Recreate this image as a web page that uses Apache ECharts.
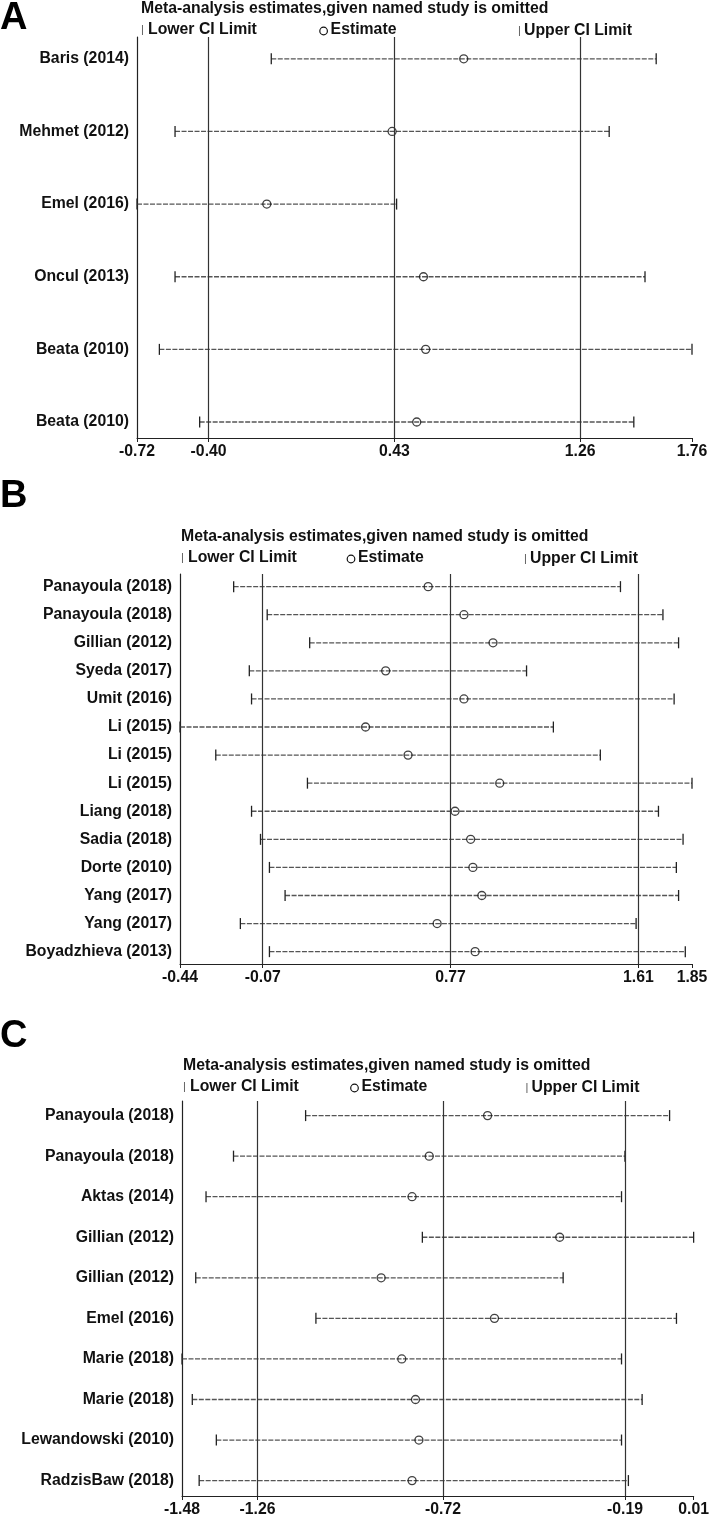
<!DOCTYPE html>
<html>
<head>
<meta charset="utf-8">
<script src="https://cdn.jsdelivr.net/npm/echarts@6/dist/echarts.min.js"></script>
<style>
html,body{margin:0;padding:0;background:#fff;}
#chart{width:712px;height:1518px;}
</style>
</head>
<body>
<div id="chart"></div>
<script>
// panel A
const studiesA = ['Baris (2014)','Mehmet (2012)','Emel (2016)','Oncul (2013)','Beata (2010)','Beata (2010)']
const lowerA = [-0.12,-0.55,-0.72,-0.55,-0.62,-0.44]
const estA = [0.74,0.42,-0.14,0.56,0.57,0.53]
const upperA = [1.60,1.39,0.44,1.55,1.76,1.50]
const overallA = [-0.40,0.43,1.26]
const ticksA = [-0.72,-0.40,0.43,1.26,1.76]

// panel B
const studiesB = ['Panayoula (2018)','Panayoula (2018)','Gillian (2012)','Syeda (2017)','Umit (2016)','Li (2015)','Li (2015)','Li (2015)','Liang (2018)','Sadia (2018)','Dorte (2010)','Yang (2017)','Yang (2017)','Boyadzhieva (2013)']
const lowerB = [-0.20,-0.05,0.14,-0.13,-0.12,-0.44,-0.28,0.13,-0.12,-0.08,-0.04,0.03,-0.17,-0.04]
const estB = [0.67,0.83,0.96,0.48,0.83,0.39,0.58,0.99,0.79,0.86,0.87,0.91,0.71,0.88]
const upperB = [1.53,1.72,1.79,1.11,1.77,1.23,1.44,1.85,1.70,1.81,1.78,1.79,1.60,1.82]
const overallB = [-0.07,0.77,1.61]
const ticksB = [-0.44,-0.07,0.77,1.61,1.85]

// panel C
const studiesC = ['Panayoula (2018)','Panayoula (2018)','Aktas (2014)','Gillian (2012)','Gillian (2012)','Emel (2016)','Marie (2018)','Marie (2018)','Lewandowski (2010)','RadzisBaw (2018)']
const lowerC = [-1.12,-1.33,-1.41,-0.78,-1.44,-1.09,-1.48,-1.45,-1.38,-1.43]
const estC = [-0.59,-0.76,-0.81,-0.38,-0.90,-0.57,-0.84,-0.80,-0.79,-0.81]
const upperC = [-0.06,-0.19,-0.20,0.01,-0.37,-0.04,-0.20,-0.14,-0.20,-0.18]
const overallC = [-1.26,-0.72,-0.19]
const ticksC = [-1.48,-1.26,-0.72,-0.19,0.01]

const FONT = "'Liberation Sans', Arial, sans-serif"
const FS = 15.8

const panels = [
  {studies:studiesA, lower:lowerA, est:estA, upper:upperA, overall:overallA, ticks:ticksA,
   grid:{left:137, top:37, width:555, height:401}, yMin:-0.30, yMax:5.22},
  {studies:studiesB, lower:lowerB, est:estB, upper:upperB, overall:overallB, ticks:ticksB,
   grid:{left:180, top:574, width:512, height:390}, yMin:-0.45, yMax:13.44},
  {studies:studiesC, lower:lowerC, est:estC, upper:upperC, overall:overallC, ticks:ticksC,
   grid:{left:182, top:1101, width:513, height:396}, yMin:-0.36, yMax:9.38}
]

function ciItem(params, api){
  const row = api.value(2)
  const p1 = api.coord([api.value(0), row])
  const p2 = api.coord([api.value(1), row])
  const h = 5.5
  return {
    type:'group',
    children:[
      {type:'line', shape:{x1:p1[0],y1:p1[1],x2:p2[0],y2:p2[1]},
       style:{stroke:'#555', lineWidth:1.3, lineDash:[5,1.5]}},
      {type:'line', shape:{x1:p1[0],y1:p1[1]-h,x2:p1[0],y2:p1[1]+h},
       style:{stroke:'#222', lineWidth:1.3}},
      {type:'line', shape:{x1:p2[0],y1:p2[1]-h,x2:p2[0],y2:p2[1]+h},
       style:{stroke:'#222', lineWidth:1.3}}
    ]
  }
}

const grids = [], xAxes = [], yAxes = [], series = []
panels.forEach((p, k) => {
  grids.push(p.grid)
  xAxes.push({
    type:'value', gridIndex:k, position:'bottom', min:p.ticks[0], max:p.ticks[p.ticks.length-1],
    axisLine:{show:true, onZero:false, lineStyle:{color:'#222', width:1.2}},
    axisTick:{show:true, length:4, customValues:p.ticks, lineStyle:{color:'#222'}},
    axisLabel:{customValues:p.ticks, formatter:v => v.toFixed(2), color:'#111',
      fontFamily:FONT, fontWeight:'bold', fontSize:FS, margin:6},
    splitLine:{show:false}
  })
  yAxes.push({
    type:'value', gridIndex:k, position:'left', inverse:true, min:p.yMin, max:p.yMax,
    axisLine:{show:true, onZero:false, lineStyle:{color:'#222', width:1.2}},
    axisTick:{show:false},
    axisLabel:{customValues:p.studies.map((s,i)=>i), formatter:v => p.studies[v],
      color:'#111', fontFamily:FONT, fontWeight:'bold', fontSize:FS, margin:8},
    splitLine:{show:false}
  })
  series.push({
    type:'custom', xAxisIndex:k, yAxisIndex:k, clip:false, renderItem:ciItem,
    data:p.lower.map((l,i) => [l, p.upper[i], i]), z:2
  })
  series.push({
    type:'scatter', xAxisIndex:k, yAxisIndex:k, symbol:'circle', symbolSize:8,
    itemStyle:{color:'rgba(0,0,0,0)', borderColor:'#111', borderWidth:1.3},
    data:p.est.map((v,i) => [v, i]), z:3,
    markLine:{silent:true, symbol:'none', label:{show:false},
      lineStyle:{color:'#333', width:1.2, type:'solid'},
      data:p.overall.map(v => ({xAxis:v}))}
  })
})

// panel letters, titles and legends
const heads = [
  {letter:'A', ly:0, ty:1, x:141, est:323.6, up:518},
  {letter:'B', ly:478, ty:529, x:181, est:351, up:524},
  {letter:'C', ly:1018, ty:1058, x:183, est:354.5, up:525.5}
]
const graphic = []
heads.forEach(h => {
  graphic.push({type:'text', left:0, top:h.ly,
    style:{text:h.letter, font:"bold 38px "+FONT, fill:'#000'}})
  graphic.push({type:'text', left:h.x, top:h.ty,
    style:{text:'Meta-analysis estimates,given named study is omitted', font:"bold "+FS+"px "+FONT, fill:'#111'}})
  graphic.push({type:'text', left:h.x, top:h.ty+23,
    style:{text:'|', font:"11px "+FONT, fill:'#555'}})
  graphic.push({type:'text', left:h.x+7, top:h.ty+21,
    style:{text:'Lower CI Limit', font:"bold "+FS+"px "+FONT, fill:'#111'}})
  graphic.push({type:'circle', shape:{cx:h.est, cy:h.ty+30, r:3.8},
    style:{fill:'none', stroke:'#111', lineWidth:1.2}})
  graphic.push({type:'text', left:h.est+7, top:h.ty+21,
    style:{text:'Estimate', font:"bold "+FS+"px "+FONT, fill:'#111'}})
  graphic.push({type:'text', left:h.up, top:h.ty+24,
    style:{text:'|', font:"11px "+FONT, fill:'#555'}})
  graphic.push({type:'text', left:h.up+6, top:h.ty+22,
    style:{text:'Upper CI Limit', font:"bold "+FS+"px "+FONT, fill:'#111'}})
})

const chart = echarts.init(document.getElementById('chart'))
chart.setOption({
  animation:false,
  backgroundColor:'#fff',
  grid:grids,
  xAxis:xAxes,
  yAxis:yAxes,
  series:series,
  graphic:graphic
})
</script>
</body>
</html>
